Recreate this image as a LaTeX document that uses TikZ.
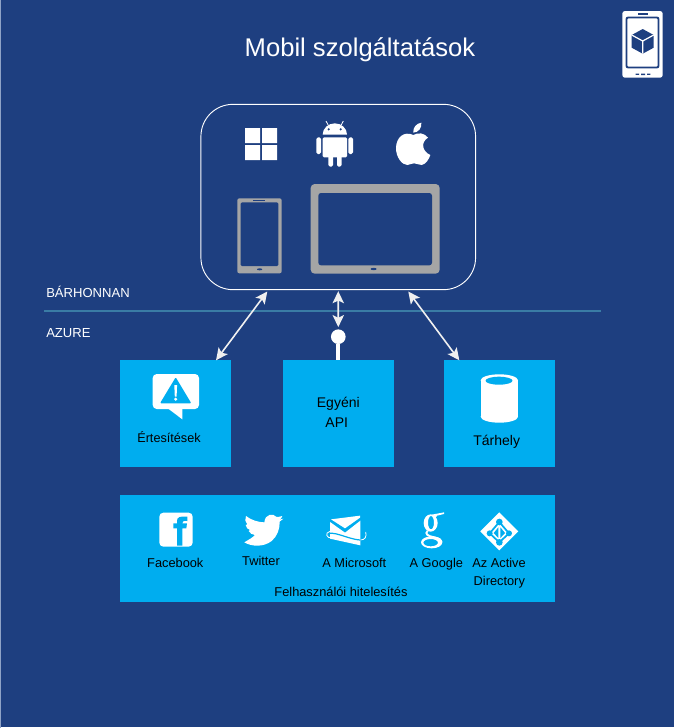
\documentclass[tikz,border=0pt]{standalone}
\usepackage{fontspec}
\setmainfont{Liberation Sans}
\usetikzlibrary{arrows.meta}
\definecolor{navy}{HTML}{1E3F80}
\definecolor{sky}{HTML}{00ADEF}
\definecolor{devgray}{HTML}{A5A5A5}
\definecolor{rule}{HTML}{3A7CA5}
\definecolor{tipw}{HTML}{F0F0F0}
\definecolor{edgel}{HTML}{8FA3C7}
\tikzset{
 tilebox/.style={fill=sky,draw=none,minimum width=83.5pt,minimum height=80.25pt,inner sep=0pt},
 lab/.style={text=black,inner sep=0pt,anchor=base,font=\fontsize{9.6}{11}\selectfont},
 bigl/.style={text=black,inner sep=0pt,anchor=base,font=\fontsize{10.5}{12}\selectfont},
 wlab/.style={text=white,inner sep=0pt,anchor=base west,font=\fontsize{9.8}{12}\selectfont},
 both/.style={draw=tipw,line width=1.2pt,{Stealth[length=9pt,width=8.5pt,inset=2pt]}-{Stealth[length=9pt,width=8.5pt,inset=2pt]}},
 icon/.style={fill=white,draw=none},
 dev/.style={fill=devgray,draw=none,rounded corners=1.5pt},
 scr/.style={fill=navy,draw=none,rounded corners=1pt},
 zoomA/.style={shift={(200,100)},x=0.25pt,y=-0.25pt},
 zoomB/.style={shift={(150,505)},x=0.25pt,y=-0.25pt},
 zoomC/.style={shift={(325,510)},x=0.25pt,y=-0.25pt},
 zoomD/.style={shift={(415,508)},x=0.25pt,y=-0.25pt},
}
\begin{document}
\begin{tikzpicture}[x=0.75pt,y=-0.75pt]
\useasboundingbox (0,0) rectangle (675,728);
\fill[white] (0,0) rectangle (675,728);
\fill[edgel] (0,0) rectangle (1,728);
\fill[navy] (1,0) rectangle (673.5,727);
% title and labels
\node[text=white,inner sep=0pt,anchor=base,font=\fontsize{19.2}{22}\selectfont] (title) at (360,56) {Mobil szolgáltatások};
\node[wlab] (any) at (46,297) {BÁRHONNAN};
\node[wlab] (azure) at (46,337) {AZURE};
\draw[rule,line width=1.4pt] (44,311) coordinate (ruleL) -- (601,311) coordinate (ruleR);
% device frame
\node[draw=white,line width=0.7pt,fill=none,rounded corners=24pt,minimum width=206pt,minimum height=139pt,inner sep=0pt] (devices) at (338.25,197) {};
% windows
\fill[icon] (245,128) rectangle (260,143) (262,128) rectangle (277,143) (245,145) rectangle (260,160) (262,145) rectangle (277,160);
% android
\begin{scope}[zoomA]
 \fill[icon] (368,104) arc[start angle=180,end angle=360,x radius=36.5,y radius=34] -- cycle;
 \draw[white,line width=0.6pt] (385,76) -- (378,63) (423,76) -- (430,63);
 \fill[navy] (386,88) circle (3.5) (422,88) circle (3.5);
 \fill[icon,rounded corners=1pt] (368,112) rectangle (441,172);
 \fill[icon,rounded corners=1.2pt] (349,112) rectangle (363,162) (445,112) rectangle (459,162) (385,160) rectangle (399,200) (411,160) rectangle (425,200);
 % apple
 \fill[icon] (640,105) .. controls (612,92) and (588,112) .. (588,145)
   .. controls (588,170) and (605,195) .. (622,195)
   .. controls (630,195) and (632,190) .. (642,190)
   .. controls (652,190) and (655,195) .. (665,195)
   .. controls (678,193) and (688,175) .. (691,165)
   .. controls (668,155) and (660,128) .. (684,113)
   .. controls (672,98) and (655,97) .. (640,105) -- cycle;
 \fill[icon] (640,98) .. controls (638,82) and (650,70) .. (664,68) .. controls (666,85) and (655,97) .. (640,98) -- cycle;
 % phone
 \fill[dev] (112,295) rectangle (245,520);
 \fill[scr] (122,307) rectangle (235,498);
 \fill[navy] (160,299) rectangle (195,303);
 \fill[navy] (179,508) ellipse (8 and 3);
 % tablet
 \fill[dev,rounded corners=3pt] (332,252) rectangle (719,521);
 \fill[scr,rounded corners=2pt] (355,279) rectangle (696,496);
 \fill[navy] (521,507) ellipse (9 and 3.5);
\end{scope}
% azure boxes
\node[tilebox] (notif) at (175.6,413.8) {};
\node[tilebox] (api) at (338.3,413.8) {};
\node[tilebox] (store) at (499.5,413.8) {};
\node[fill=sky,minimum width=326.25pt,minimum height=80pt,inner sep=0pt] (auth) at (337.5,548.3) {};
% connectors
\coordinate (dL) at (267.3,291.5);
\coordinate (nT) at (216,360.3);
\coordinate (dR) at (408.3,291.5);
\coordinate (sT) at (459.3,360.3);
\node[circle,fill=white,minimum size=11pt,inner sep=0pt] (hub) at (338.3,336.7) {};
\draw[both] (dL) -- (nT);
\draw[both] (dR) -- (sT);
\draw[both,shorten <=0.8pt,shorten >=1.5pt] (devices.south) -- (hub.north);
\draw[white,line width=3pt] (hub) -- (api.north);
% alert icon
\fill[icon,rounded corners=3pt] (152.7,374) rectangle (199,409);
\fill[icon] (167.3,408) -- (182.3,419.3) -- (182.3,408) -- cycle;
\fill[sky,rounded corners=0.8pt] (175.7,377.3) -- (191.3,403.3) -- (160,403.3) -- cycle;
\fill[white] (174.3,385) -- (177.1,385) -- (176.6,396.5) -- (174.8,396.5) -- cycle;
\fill[white] (175.7,399.2) circle (1.7);
\node[lab,font=\fontsize{9.5}{11}\selectfont] (t1) at (169,442) {Értesítések};
% api text
\node[bigl] (t2) at (338.3,407) {Egyéni};
\node[bigl] (t3) at (336.7,427) {API};
% cylinder
\fill[icon] (480.7,380.3) rectangle (518,416.7);
\fill[icon] (499.35,380.3) ellipse (18.65 and 6);
\fill[icon] (499.35,416.7) ellipse (18.65 and 6);
\fill[sky] (499,380.7) ellipse (13.5 and 4);
\node[bigl] (t4) at (496.7,445) {Tárhely};
% facebook
\begin{scope}[zoomB]
 \fill[icon,rounded corners=3pt] (28,23) rectangle (128,125);
 \fill[sky] (81,122) -- (81,70) -- (70,70) -- (70,55) -- (81,55) -- (81,48)
   .. controls (81,36) and (90,33) .. (112,35) -- (112,48)
   .. controls (100,47) and (97,48) .. (97,55) -- (111,55) -- (109,70) -- (97,70) -- (97,122) -- cycle;
 % twitter
 \fill[icon] (397,33) .. controls (385,36) and (385,36) .. (380,36) .. controls (370,24) and (345,26) .. (343,52)
   .. controls (325,52) and (303,45) .. (288,33) .. controls (284,42) and (285,52) .. (292,58)
   -- (287,60) .. controls (289,68) and (293,73) .. (300,75) -- (296,78) .. controls (300,85) and (306,89) .. (315,90)
   .. controls (308,98) and (296,104) .. (283,112) .. controls (305,125) and (340,127) .. (365,108)
   .. controls (382,94) and (390,70) .. (389,50) .. controls (393,48) and (397,45) .. (400,41)
   .. controls (396,42) and (392,44) .. (388,44) .. controls (392,42) and (396,38) .. (397,33) -- cycle;
\end{scope}
\begin{scope}[zoomC]
 % microsoft envelope
 \fill[icon] (18,28) -- (105,17) -- (105,23) -- (60,55) -- cycle;
 \fill[icon] (15,36) -- (60,68) -- (106,32) -- (106,106) -- (15,86) -- cycle;
 \draw[sky,line width=0.9pt] (6,70) .. controls (40,64) and (80,96) .. (128,90);
 \draw[white,line width=0.6pt] (15,64) .. controls (-2,68) and (4,86) .. (22,84);
 \draw[white,line width=0.6pt] (106,90) .. controls (120,90) and (126,80) .. (122,66);
\end{scope}
\begin{scope}[zoomD]
 % google g
 \fill[icon,even odd rule] (47,45) ellipse (21 and 26) (48,44) ellipse (9 and 20);
 \fill[icon] (50,20) -- (87,13) -- (87,18) -- (66,23) -- (62,30) -- cycle;
 \draw[white,line width=1.4pt] (38,68) .. controls (28,78) and (38,84) .. (58,88) .. controls (72,91) and (80,95) .. (80,102);
 \fill[icon,even odd rule] (50,103) ellipse (32 and 18) (47,104) ellipse (22 and 11);
 % active directory diamond
 \fill[icon] (253,13) -- (310,70) -- (253,127) -- (196,70) -- cycle;
 \draw[sky,line width=1.3pt,line join=round] (253,42) -- (282,76) -- (253,103) -- (224,76) -- cycle;
 \fill[sky] (253,42) circle (10) (282,76) circle (9) (253,103) circle (10) (224,76) circle (9);
 \fill[sky] (250,58) -- (236,75) -- (250,90) -- cycle;
 \fill[sky] (256,58) -- (270,75) -- (256,90) -- cycle;
\end{scope}
% auth labels
\node[lab] (a1) at (175.3,567.3) {Facebook};
\node[lab] (a2) at (261,565) {Twitter};
\node[lab] (a3) at (354.3,567.3) {A Microsoft};
\node[lab] (a4) at (436.3,567.3) {A Google};
\node[lab] (a5) at (499,567.3) {Az Active};
\node[lab] (a6) at (499.3,585) {Directory};
\node[lab] (a7) at (341,596) {Felhasználói hitelesítés};
% corner phone icon
\fill[icon,rounded corners=2pt] (622.3,11) rectangle (662.7,77.7);
\fill[navy,rounded corners=1.5pt] (625.7,16.7) rectangle (659.3,68.3);
\fill[white,rounded corners=1pt] (627.3,18.3) rectangle (657.7,66.7);
\fill[navy] (637.7,13) rectangle (648.3,14.6);
\fill[navy] (635.7,73.6) rectangle (639,74.8) (641,73.6) rectangle (645,75.2) (647,73.6) rectangle (650.3,74.8);
\fill[navy] (642.7,29) -- (653.7,35) -- (653.7,47.7) -- (642.7,53.7) -- (631.7,47.7) -- (631.7,35) -- cycle;
\draw[white,line width=0.9pt] (631.7,35) -- (642.7,41) -- (653.7,35) (642.7,41) -- (642.7,53.7);
\end{tikzpicture}
\end{document}
